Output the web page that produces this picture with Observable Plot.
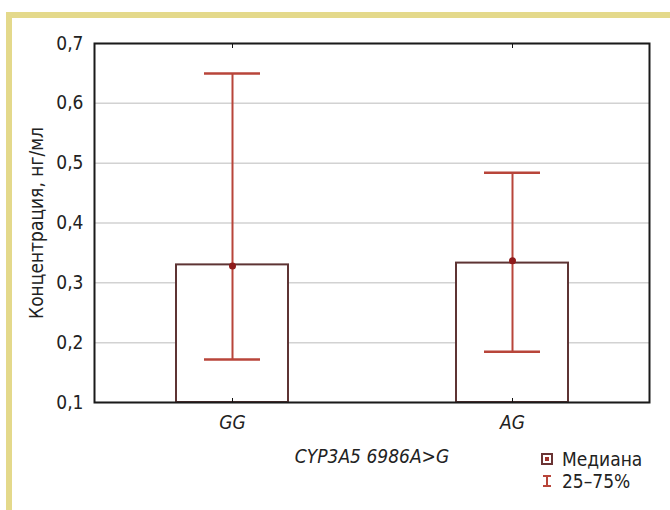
<!DOCTYPE html>
<html><head><meta charset="utf-8">
<script src="https://cdn.jsdelivr.net/npm/d3@7"></script>
<script src="https://cdn.jsdelivr.net/npm/@observablehq/plot@0.6"></script>
<style>
body{margin:0;background:#fff;width:670px;height:510px;overflow:hidden;position:relative;font-family:'DejaVu Sans Condensed','DejaVu Sans',sans-serif;font-stretch:condensed;color:#222;}
#border{position:absolute;left:6px;top:12px;right:-10px;bottom:-10px;border-top:6px solid #e4d98b;border-left:6px solid #e4d98b;}
#chart{position:absolute;left:0;top:0;}
.leg{position:absolute;left:541px;font-size:19px;line-height:22px;height:22px;display:flex;align-items:center;white-space:nowrap;}
.leg svg{margin-right:9px;}
</style></head>
<body>
<div id="border"></div>
<div id="chart"></div>
<div class="leg" style="top:448px"><svg width="12" height="12"><rect x="1" y="1" width="10" height="10" fill="#fff" stroke="#6a3434" stroke-width="2"/><rect x="4" y="4" width="4" height="4" fill="#a0312a"/></svg><span>Медиана</span></div>
<div class="leg" style="top:470px"><svg width="12" height="14"><path d="M2,2H10M6,2V12M2,12H10" stroke="#b8453a" stroke-width="2" fill="none"/></svg><span>25–75%</span></div>
<script>
const categories = ["GG", "AG"];
const barTops = [0.330, 0.333];
const medians = [0.328, 0.337];
const q25 = [0.172, 0.185];
const q75 = [0.650, 0.484];
const yTicks = [0.1, 0.2, 0.3, 0.4, 0.5, 0.6, 0.7];
const yDomain = [0.1, 0.7];
const yLabel = "Концентрация, нг/мл";
const xLabel = "CYP3A5 6986A>G";

const data = categories.map((c, i) => ({cat: c, top: barTops[i], med: medians[i], lo: q25[i], hi: q75[i]}));
const fmt = d => d.toFixed(1).replace(".", ",");
const whisk = "#b8453a";

const plot = Plot.plot({
  width: 670, height: 510,
  marginLeft: 94, marginRight: 21, marginTop: 43, marginBottom: 108,
  style: {fontFamily: "'DejaVu Sans Condensed','DejaVu Sans',sans-serif", fontSize: "19px", color: "#222", background: "transparent", fontStretch: "condensed"},
  x: {domain: categories, paddingInner: 0.6, paddingOuter: 0.29},
  y: {domain: yDomain},
  marks: [
    Plot.gridY(yTicks, {stroke: "#d2d2d2", strokeOpacity: 1, strokeWidth: 1.5}),
    Plot.barY(data, {x: "cat", y1: yDomain[0], y2: "top", fill: "white", stroke: "#5e3434", strokeWidth: 2}),
    Plot.ruleX(data, {x: "cat", y1: "lo", y2: "hi", stroke: whisk, strokeWidth: 2}),
    Plot.tickY(data, {x: "cat", y: "lo", stroke: whisk, strokeWidth: 2.5, insetLeft: 28, insetRight: 28}),
    Plot.tickY(data, {x: "cat", y: "hi", stroke: whisk, strokeWidth: 2.5, insetLeft: 28, insetRight: 28}),
    Plot.dot(data, {x: "cat", y: "med", r: 3.5, fill: "#8e1b1b"}),
    Plot.frame({stroke: "#1a1a1a", strokeWidth: 2}),
    Plot.axisY(yTicks, {tickSize: 0, tickPadding: 11, tickFormat: fmt, label: yLabel, labelAnchor: "center", labelOffset: 65, labelArrow: "none"}),
    Plot.axisX({anchor: "bottom", tickSize: 0, tickPadding: 13, fontStyle: "italic", label: xLabel, labelAnchor: "center", labelOffset: 60, labelArrow: "none"}),
    Plot.axisX({anchor: "bottom", tickSize: 4, dy: -4, tickFormat: () => "", label: null, stroke: "#111"}),
    Plot.axisX({anchor: "top", tickSize: 4, dy: 4, tickFormat: () => "", label: null, stroke: "#111"})
  ]
});
document.getElementById("chart").appendChild(plot);
</script>
</body></html>
